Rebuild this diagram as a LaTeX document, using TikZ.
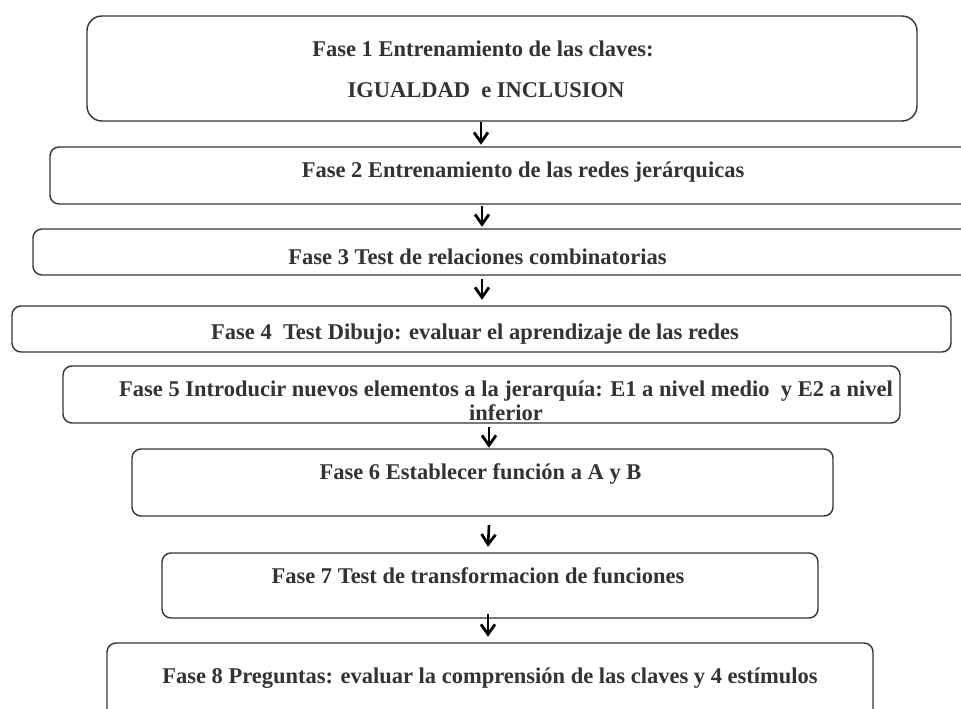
\documentclass[tikz,border=0pt]{standalone}
\usepackage{fontspec}
\setmainfont{Liberation Serif}
\usetikzlibrary{arrows.meta}
\definecolor{ink}{HTML}{333333}
\definecolor{txt}{HTML}{333333}
\begin{document}
\begin{tikzpicture}[x=1pt,y=-1pt,
  phase/.style={draw=ink,line width=1.4pt,rounded corners=9pt,inner sep=0pt},
  label/.style={anchor=base,inner sep=0pt,text=txt,font=\bfseries\fontsize{22.5}{27}\selectfont},
  flow/.style={line width=2.6pt,-{Straight Barb[length=10pt,width=14pt,line width=2.8pt]}}]
\useasboundingbox (0,0) rectangle (961,709);
\clip (0,0) rectangle (961,709);
\fill[white] (0,0) rectangle (961,709);
% phase boxes
\draw[phase,rounded corners=15pt] (87,16) rectangle (917,121);
\node[inner sep=0pt,minimum width=830pt,minimum height=105pt] (b1) at (502,68.5) {};
\draw[phase] (50,147) rectangle (996,204);
\node[inner sep=0pt,minimum width=946pt,minimum height=57pt] (b2) at (523,175.5) {};
\draw[phase] (33,229) rectangle (1000,275);
\node[inner sep=0pt,minimum width=967pt,minimum height=46pt] (b3) at (516.5,252) {};
\draw[phase] (12,306) rectangle (951,352);
\node[inner sep=0pt,minimum width=939pt,minimum height=46pt] (b4) at (481.5,329) {};
\draw[phase] (63,366) rectangle (900,423);
\node[inner sep=0pt,minimum width=837pt,minimum height=57pt] (b5) at (481.5,394.5) {};
\draw[phase] (132,449) rectangle (833,516);
\node[inner sep=0pt,minimum width=701pt,minimum height=67pt] (b6) at (482.5,482.5) {};
\draw[phase] (162,553) rectangle (818,618);
\node[inner sep=0pt,minimum width=656pt,minimum height=65pt] (b7) at (490,585.5) {};
\draw[phase] (107,643) rectangle (873,760);
\node[inner sep=0pt,minimum width=766pt,minimum height=117pt] (b8) at (490,701.5) {};
% texts
\node[label] (t1a) at (483,57) {Fase 1 Entrenamiento de las claves:};
\node[label] (t1b) at (486,97) {IGUALDAD\ \ e INCLUSION};
\node[label] (t2) at (523,177) {Fase 2 Entrenamiento de las redes jerárquicas};
\node[label] (t3) at (477.5,264) {Fase 3 Test de relaciones combinatorias};
\node[label] (t4) at (475,339) {Fase 4\ \ Test Dibujo: evaluar el aprendizaje de las redes};
\node[label] (t5a) at (506,396) {Fase 5 Introducir nuevos elementos a la jerarquía: E1 a nivel medio\ \ y E2 a nivel};
\node[label] (t5b) at (506,420) {inferior};
\node[label] (t6) at (480.5,479) {Fase 6 Establecer función a A y B};
\node[label] (t7) at (478,583) {Fase 7 Test de transformacion de funciones};
\node[label] (t8) at (490,683) {Fase 8 Preguntas: evaluar la comprensión de las claves y 4 estímulos};
% arrows between phases
\draw[flow] ([xshift=-21pt,yshift=-1pt]b1.south) -- ([xshift=-42pt,yshift=2pt]b2.north);
\draw[flow] ([xshift=-41pt,yshift=-2pt]b2.south) -- ([xshift=-34.5pt,yshift=2pt]b3.north);
\draw[flow] ([xshift=-34.5pt,yshift=-4pt]b3.south) -- ([xshift=0.5pt,yshift=6pt]b4.north);
\draw[flow] ([xshift=7.5pt,yshift=-4pt]b5.south) -- ([xshift=6.5pt,yshift=1pt]b6.north);
\draw[flow] ([xshift=6.5pt,yshift=-9pt]b6.south) -- ([xshift=-2pt,yshift=6pt]b7.north);
\draw[flow] ([xshift=-2pt,yshift=4pt]b7.south) -- ([xshift=-2pt,yshift=6pt]b8.north);
\end{tikzpicture}
\end{document}
